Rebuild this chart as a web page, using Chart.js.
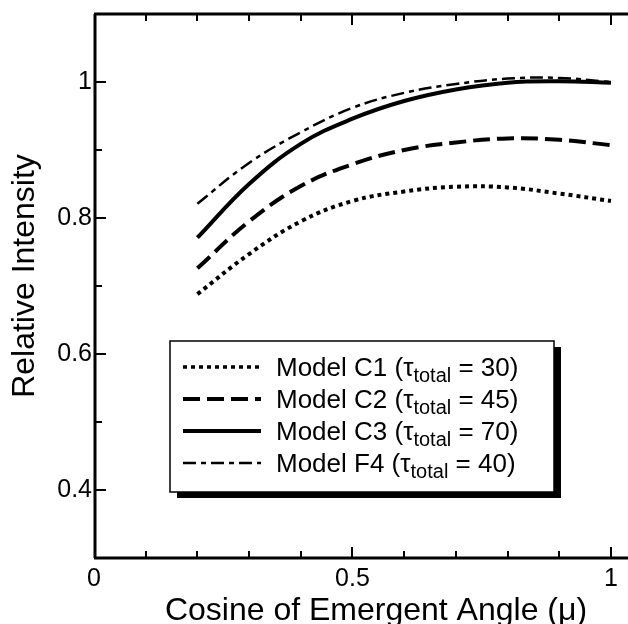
<!DOCTYPE html>
<html>
<head>
<meta charset="utf-8">
<title>Relative Intensity vs Cosine of Emergent Angle</title>
<script src="https://cdn.jsdelivr.net/npm/chart.js@4.4.1/dist/chart.umd.min.js"></script>
<style>
  html, body { margin: 0; padding: 0; background: #fff; }
  canvas { display: block; }
</style>
</head>
<body>
<canvas id="chart" width="628" height="624"></canvas>
<script>
'use strict';

// cosine of emergent angle (mu)
const muValues = [0.2, 0.3, 0.4, 0.5, 0.6, 0.7, 0.8, 0.9, 1.0];

// relative intensity
const modelC1 = [0.688, 0.747, 0.795, 0.825, 0.839, 0.846, 0.845, 0.836, 0.825];
const modelC2 = [0.726, 0.795, 0.847, 0.879, 0.900, 0.911, 0.917, 0.915, 0.907];
const modelC3 = [0.771, 0.850, 0.909, 0.946, 0.972, 0.989, 0.999, 1.001, 0.999];
const modelF4 = [0.821, 0.881, 0.926, 0.962, 0.984, 0.997, 1.005, 1.006, 1.000];

const modelNames = ['Model C1', 'Model C2', 'Model C3', 'Model F4'];
const tauTotals = [30, 45, 70, 40];

const xLabelTicks = [0, 0.5, 1];
const yLabelTicks = [0.4, 0.6, 0.8, 1];

const FONT = '"Liberation Sans", Arial, Helvetica, sans-serif';

const lineStyles = [
  { width: 4, dash: [4, 4] },
  { width: 4, dash: [17, 7] },
  { width: 4, dash: [] },
  { width: 2.5, dash: [13, 5, 5, 5] },
];

function toPoints(values) {
  return muValues.map(function (mu, i) { return { x: mu, y: values[i] }; });
}

function isTenth(v) {
  return Math.abs(v * 10 - Math.round(v * 10)) < 1e-6;
}

function hasLabel(list, v) {
  return list.some(function (t) { return Math.abs(t - v) < 1e-6; });
}

// axes frame with inward ticks, axis titles and the boxed legend
const framePlugin = {
  id: 'frame',
  beforeDraw: function (chart) {
    const ctx = chart.ctx;
    ctx.save();
    ctx.fillStyle = '#fff';
    ctx.fillRect(0, 0, chart.width, chart.height);
    ctx.restore();
  },
  afterDatasetsDraw: function (chart) {
    const ctx = chart.ctx;
    const box = { left: 170, top: 341, right: 554, bottom: 492 };
    const rows = [367, 399, 431, 463];

    ctx.save();
    ctx.fillStyle = '#000';
    ctx.fillRect(box.left + 7, box.top + 6, box.right - box.left, box.bottom - box.top);
    ctx.fillStyle = '#fff';
    ctx.fillRect(box.left, box.top, box.right - box.left, box.bottom - box.top);
    ctx.strokeStyle = '#000';
    ctx.lineWidth = 1.5;
    ctx.strokeRect(box.left, box.top, box.right - box.left, box.bottom - box.top);

    rows.forEach(function (y, i) {
      const st = lineStyles[i];
      ctx.beginPath();
      ctx.lineWidth = i === 0 ? 3.5 : st.width;
      ctx.setLineDash(st.dash);
      ctx.lineCap = 'butt';
      ctx.moveTo(183, y);
      ctx.lineTo(261, y);
      ctx.stroke();
      ctx.setLineDash([]);

      let x = 276;
      const head = modelNames[i] + ' (\u03c4';
      ctx.fillStyle = '#000';
      ctx.textBaseline = 'alphabetic';
      ctx.textAlign = 'left';
      ctx.font = '26px ' + FONT;
      ctx.fillText(head, x, y + 9);
      x += ctx.measureText(head).width;
      ctx.font = '20px ' + FONT;
      ctx.fillText('total', x, y + 15);
      x += ctx.measureText('total').width;
      ctx.font = '26px ' + FONT;
      ctx.fillText(' = ' + tauTotals[i] + ')', x, y + 9);
    });
    ctx.restore();
  },
  afterDraw: function (chart) {
    const ctx = chart.ctx;
    const area = chart.chartArea;
    const xs = chart.scales.x;
    const ys = chart.scales.y;

    ctx.save();
    ctx.strokeStyle = '#000';

    // frame lines: left, top, bottom
    ctx.lineWidth = 3;
    ctx.beginPath();
    ctx.moveTo(area.left + 1, area.top);
    ctx.lineTo(area.left + 1, area.bottom);
    ctx.moveTo(area.left, area.top);
    ctx.lineTo(area.right, area.top);
    ctx.moveTo(area.left, area.bottom);
    ctx.lineTo(area.right, area.bottom);
    ctx.stroke();

    ctx.lineWidth = 2;
    ctx.beginPath();
    xs.ticks.forEach(function (t) {
      if (!isTenth(t.value) || t.value < 0.05) return;
      const len = hasLabel(xLabelTicks, t.value) ? 11 : 7;
      const px = Math.round(xs.getPixelForValue(t.value));
      ctx.moveTo(px, area.bottom);
      ctx.lineTo(px, area.bottom - len);
      ctx.moveTo(px, area.top);
      ctx.lineTo(px, area.top + len);
    });
    ys.ticks.forEach(function (t) {
      if (!isTenth(t.value) || t.value < 0.35 || t.value > 1.05) return;
      const len = hasLabel(yLabelTicks, t.value) ? 11 : 7;
      const py = Math.round(ys.getPixelForValue(t.value));
      ctx.moveTo(area.left, py);
      ctx.lineTo(area.left + 1 + len, py);
    });
    ctx.stroke();

    // axis titles
    ctx.fillStyle = '#000';
    ctx.font = '32px ' + FONT;
    ctx.textAlign = 'center';
    ctx.textBaseline = 'alphabetic';
    ctx.fillText('Cosine of Emergent Angle (\u03bc)', 376, 620);

    ctx.translate(34, 276);
    ctx.rotate(-Math.PI / 2);
    ctx.fillText('Relative Intensity', 0, 0);
    ctx.restore();
  },
};

const datasets = [modelC1, modelC2, modelC3, modelF4].map(function (values, i) {
  return {
    label: modelNames[i],
    data: toPoints(values),
    borderColor: '#000',
    backgroundColor: '#000',
    borderWidth: lineStyles[i].width,
    borderDash: lineStyles[i].dash,
    borderCapStyle: 'butt',
    pointRadius: 0,
    fill: false,
    tension: 0.4,
  };
});

const tickFont = { family: FONT, size: 25 };

new Chart(document.getElementById('chart').getContext('2d'), {
  type: 'line',
  data: { datasets: datasets },
  options: {
    responsive: false,
    animation: false,
    events: [],
    layout: { padding: { top: 14, left: 0, right: 0, bottom: 0 } },
    plugins: {
      legend: { display: false },
      tooltip: { enabled: false },
    },
    scales: {
      x: {
        type: 'linear',
        min: 0,
        max: 1.033,
        grid: { display: false, drawTicks: false },
        border: { display: false },
        ticks: {
          stepSize: 0.1,
          includeBounds: false,
          autoSkip: false,
          maxRotation: 0,
          padding: 6,
          color: '#000',
          font: tickFont,
          callback: function (value) {
            if (!hasLabel(xLabelTicks, value)) return '';
            return String(Math.round(value * 10) / 10);
          },
        },
        afterFit: function (scale) {
          scale.height = 66;
          scale.paddingLeft = 0;
          scale.paddingRight = 0;
        },
      },
      y: {
        type: 'linear',
        min: 0.3,
        max: 1.1,
        grid: { display: false, drawTicks: false },
        border: { display: false },
        ticks: {
          stepSize: 0.1,
          autoSkip: false,
          padding: 2,
          color: '#000',
          font: tickFont,
          callback: function (value) {
            if (!hasLabel(yLabelTicks, value)) return '';
            return String(Math.round(value * 10) / 10);
          },
        },
        afterFit: function (scale) {
          scale.width = 94;
          scale.paddingTop = 0;
          scale.paddingBottom = 0;
        },
      },
    },
  },
  plugins: [framePlugin],
});
</script>
</body>
</html>
